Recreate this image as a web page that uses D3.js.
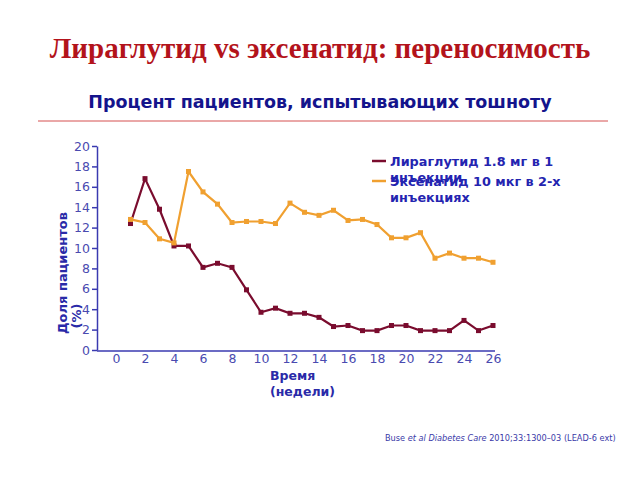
<!DOCTYPE html>
<html><head><meta charset="utf-8">
<script src="https://cdn.jsdelivr.net/npm/d3@7"></script>
<style>body{margin:0;background:#fff}svg{display:block}</style>
</head><body>
<svg id="c" width="640" height="480"></svg>
<script>
const weeks = d3.range(1, 27);
const liraglutide = [12.4,16.8,13.8,10.2,10.2,8.1,8.5,8.1,5.9,3.7,4.1,3.6,3.6,3.2,2.3,2.4,1.9,1.9,2.4,2.4,1.9,1.9,1.9,2.9,1.9,2.4];
const exenatide = [12.8,12.5,10.9,10.5,17.5,15.5,14.3,12.5,12.6,12.6,12.4,14.4,13.5,13.2,13.7,12.7,12.8,12.3,11.0,11.0,11.5,9.0,9.5,9.0,9.0,8.6];
const xTicks = [0,2,4,6,8,10,12,14,16,18,20,22,24,26];
const yTicks = [0,2,4,6,8,10,12,14,16,18,20];
const seriesNames = ["Лираглутид 1.8 мг в 1 инъекции","Эксенатид 10 мкг в 2-х инъекциях"];

const svg = d3.select("#c");
const x = d3.scaleLinear().domain([0,26]).range([116,493]);
const y = d3.scaleLinear().domain([0,20]).range([350,146]);
const axisCol = "#3a3ab0";

svg.append("text").attr("x",320).attr("y",58).attr("text-anchor","middle")
  .attr("font-family","Liberation Serif").attr("font-weight","bold").attr("font-size",29)
  .attr("fill","#b3131b").text("Лираглутид vs эксенатид: переносимость");
svg.append("text").attr("x",320).attr("y",108).attr("text-anchor","middle")
  .attr("font-family","DejaVu Sans").attr("font-weight","bold").attr("font-size",17.5)
  .attr("fill","#14148c").text("Процент пациентов, испытывающих тошноту");
svg.append("line").attr("x1",38).attr("x2",608).attr("y1",121).attr("y2",121)
  .attr("stroke","#d55050").attr("stroke-width",1);

// axes
const gy = svg.append("g").attr("transform","translate(97,0)")
  .call(d3.axisLeft(y).tickValues(yTicks).tickSize(5).tickSizeOuter(0));
const gx = svg.append("g").attr("transform","translate(0,351)")
  .call(d3.axisBottom(x).tickValues(xTicks).tickSize(0).tickPadding(3));
gx.select(".domain").attr("d","M97,0H495");
[gx,gy].forEach(g=>{
  g.selectAll("path,line").attr("stroke",axisCol).attr("stroke-width",1.5);
  g.selectAll("text").attr("fill","#4a4ab0").attr("font-family","DejaVu Sans").attr("font-size",12.5);
});
gy.selectAll("text").attr("dx",1);

// axis labels
svg.append("text").attr("transform","translate(67,273) rotate(-90)").attr("text-anchor","middle")
  .attr("font-family","DejaVu Sans").attr("font-weight","bold").attr("font-size",13).attr("fill","#2a2aa8")
  .text("Доля пациентов");
svg.append("text").attr("transform","translate(81,316) rotate(-90)").attr("text-anchor","middle")
  .attr("font-family","DejaVu Sans").attr("font-weight","bold").attr("font-size",13).attr("fill","#2a2aa8")
  .text("(%)");
svg.append("text").attr("x",270).attr("y",380).attr("font-family","DejaVu Sans").attr("font-weight","bold")
  .attr("font-size",12.5).attr("fill","#2a2aa8").text("Время");
svg.append("text").attr("x",270).attr("y",396).attr("font-family","DejaVu Sans").attr("font-weight","bold")
  .attr("font-size",12.5).attr("fill","#2a2aa8").text("(недели)");

const cols = ["#7a0c2e","#f0a030"];
[liraglutide, exenatide].forEach((vals,i)=>{
  const data = weeks.map((w,j)=>[w,vals[j]]);
  svg.append("path").datum(data).attr("fill","none").attr("stroke",cols[i]).attr("stroke-width",2.2)
    .attr("d",d3.line().x(d=>x(d[0])).y(d=>y(d[1])));
  svg.append("g").selectAll("rect").data(data).join("rect")
    .attr("x",d=>x(d[0])-2.5).attr("y",d=>y(d[1])-2.5).attr("width",5).attr("height",5).attr("fill",cols[i]);
});

// legend
const leg = [["Лираглутид 1.8 мг в 1","инъекции",161],["Эксенатид 10 мкг в 2-х","инъекциях",181]];
leg.forEach((l,i)=>{
  svg.append("line").attr("x1",372).attr("x2",386).attr("y1",l[2]).attr("y2",l[2])
    .attr("stroke",cols[i]).attr("stroke-width",2.5);
  svg.append("text").attr("x",390).attr("y",l[2]+5).attr("font-family","DejaVu Sans").attr("font-weight","bold")
    .attr("font-size",12.8).attr("fill","#2424b0").text(l[0]);
  svg.append("text").attr("x",390).attr("y",l[2]+20.5).attr("font-family","DejaVu Sans").attr("font-weight","bold")
    .attr("font-size",12.8).attr("fill","#2424b0").text(l[1]);
});

const fn = svg.append("text").attr("x",385).attr("y",441).attr("font-family","DejaVu Sans")
  .attr("font-size",8.2).attr("fill","#3a3aa8");
fn.append("tspan").text("Buse ");
fn.append("tspan").attr("font-style","italic").text("et al Diabetes Care");
fn.append("tspan").text(" 2010;33:1300–03 (LEAD-6 ext)");
</script>
</body></html>
